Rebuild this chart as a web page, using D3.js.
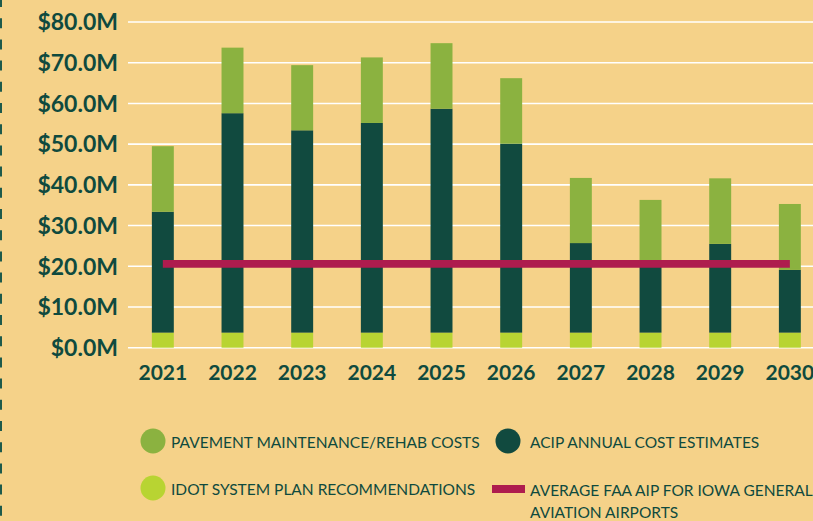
<!DOCTYPE html>
<html>
<head>
<meta charset="utf-8">
<script src="https://cdn.jsdelivr.net/npm/d3@7"></script>
<style>
    html, body { margin: 0; padding: 0; background: #f5d289; }
    svg { display: block; }
    text { font-family: Lato, "Open Sans", sans-serif; fill: #0f4a3e; }
</style>
</head>
<body>
<svg id="chart" width="813" height="521"></svg>
<script>
// values in $M
const years = ['2021', '2022', '2023', '2024', '2025', '2026', '2027', '2028', '2029', '2030'];
const idot = [3.7, 3.7, 3.7, 3.7, 3.7, 3.7, 3.7, 3.7, 3.7, 3.7];
const acip = [29.7, 53.9, 49.7, 51.5, 55.0, 46.4, 22.0, 16.5, 21.8, 15.4];
const pavement = [16.1, 16.1, 16.0, 16.1, 16.1, 16.1, 16.0, 16.1, 16.1, 16.2];
const faaAverage = 20.6;
const yTicks = [0, 10, 20, 30, 40, 50, 60, 70, 80];

const colors = {
    'pavement': '#8bb240',
    'acip': '#114a3f',
    'idot': '#b8d432',
    'faa': '#ae1c4e'
};

const svg = d3.select('svg#chart');

// dashed border on the left edge
svg.append('line')
    .attr('x1', 1).attr('x2', 1)
    .attr('y1', 0).attr('y2', 521)
    .attr('stroke', '#1d5a4b')
    .attr('stroke-width', 2)
    .attr('stroke-dasharray', '10,11.2')
    .attr('stroke-dashoffset', 3);

const x = d3.scaleBand()
    .domain(years)
    .range([128, 824.7])
    .paddingInner(0.685)
    .paddingOuter(0.3425);

const y = d3.scaleLinear()
    .domain([0, 80])
    .range([347.7, 22]);

// gridlines + tick labels
const grid = svg.append('g').attr('id', 'grid');
grid.selectAll('line')
    .data(yTicks)
    .enter()
    .append('line')
    .attr('x1', 128).attr('x2', 813)
    .attr('y1', d => y(d)).attr('y2', d => y(d))
    .attr('stroke', '#ffffff')
    .attr('stroke-width', 1.6);

svg.append('g')
    .selectAll('text')
    .data(yTicks)
    .enter()
    .append('text')
    .attr('x', 118)
    .attr('y', d => y(d))
    .attr('dy', '0.36em')
    .attr('text-anchor', 'end')
    .style('font-weight', 700)
    .style('font-size', '23px')
    .text(d => '$' + d3.format('.1f')(d) + 'M');

// stack the three series
const rows = years.map((yr, i) => ({year: yr, idot: idot[i], acip: acip[i], pavement: pavement[i]}));
const stack = d3.stack().keys(['idot', 'acip', 'pavement'])(rows);

const bars = svg.append('g').attr('id', 'bars');
bars.selectAll('g')
    .data(stack)
    .enter()
    .append('g')
    .attr('fill', d => colors[d.key])
    .selectAll('rect')
    .data(d => d)
    .enter()
    .append('rect')
    .attr('x', d => x(d.data.year))
    .attr('width', x.bandwidth())
    .attr('y', d => y(d[1]))
    .attr('height', d => y(d[0]) - y(d[1]));

// year labels
svg.append('g')
    .selectAll('text')
    .data(years)
    .enter()
    .append('text')
    .attr('x', d => x(d) + x.bandwidth() / 2)
    .attr('y', 380)
    .attr('text-anchor', 'middle')
    .style('font-weight', 700)
    .style('font-size', '21px')
    .text(d => d);

// average FAA AIP line, from first to last bar centre
svg.append('line')
    .attr('x1', x(years[0]) + x.bandwidth() / 2)
    .attr('x2', x(years[years.length - 1]) + x.bandwidth() / 2)
    .attr('y1', y(faaAverage)).attr('y2', y(faaAverage))
    .attr('stroke', colors.faa)
    .attr('stroke-width', 7.7);

// legend
const legend = svg.append('g').attr('id', 'legend').style('font-size', '15.5px');
const circleItems = [
    {key: 'pavement', cx: 153, cy: 441, label: 'PAVEMENT MAINTENANCE/REHAB COSTS'},
    {key: 'acip', cx: 508, cy: 441, label: 'ACIP ANNUAL COST ESTIMATES'},
    {key: 'idot', cx: 153, cy: 488, label: 'IDOT SYSTEM PLAN RECOMMENDATIONS'}
];
legend.selectAll('circle')
    .data(circleItems)
    .enter()
    .append('circle')
    .attr('cx', d => d.cx)
    .attr('cy', d => d.cy)
    .attr('r', 12.5)
    .attr('fill', d => colors[d.key]);
legend.selectAll('text.item')
    .data(circleItems)
    .enter()
    .append('text')
    .attr('class', 'item')
    .attr('x', d => d.cx + (d.key === 'acip' ? 22 : 18))
    .attr('y', d => d.cy + 6.5)
    .text(d => d.label);

legend.append('rect')
    .attr('x', 492).attr('y', 485)
    .attr('width', 33).attr('height', 8)
    .attr('fill', colors.faa);
const faaLabel = legend.append('text').attr('x', 530).attr('y', 496);
faaLabel.append('tspan').attr('x', 530).text('AVERAGE FAA AIP FOR IOWA GENERAL');
faaLabel.append('tspan').attr('x', 530).attr('dy', 22).text('AVIATION AIRPORTS');
</script>
</body>
</html>
